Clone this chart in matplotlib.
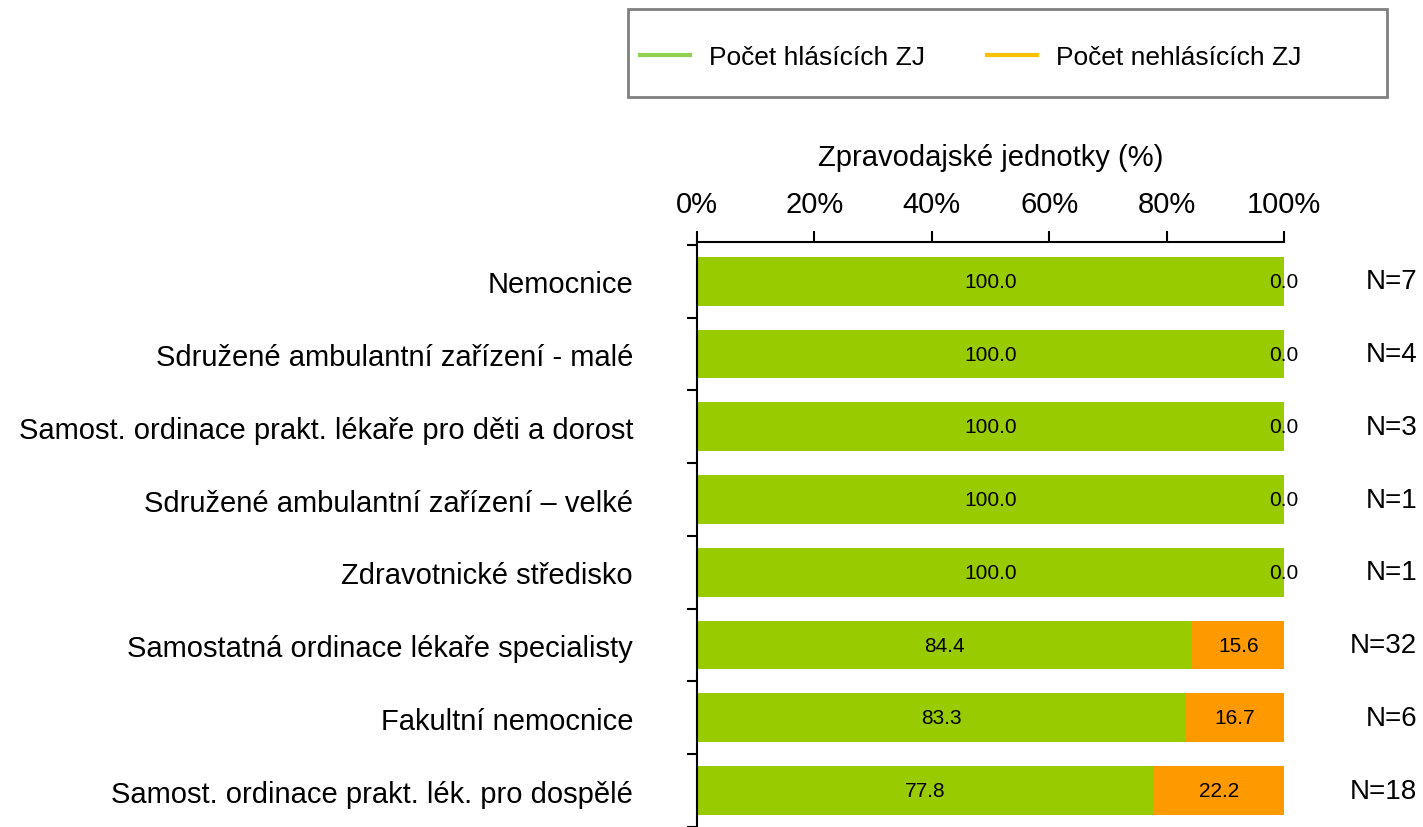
import matplotlib.pyplot as plt
from matplotlib.lines import Line2D
from matplotlib.patches import Rectangle
from matplotlib.transforms import blended_transform_factory

plt.rcParams['font.family'] = ['Liberation Sans', 'DejaVu Sans']

categories = ["Nemocnice",
              "Sdružené ambulantní zařízení - malé",
              "Samost. ordinace prakt. lékaře pro děti a dorost",
              "Sdružené ambulantní zařízení – velké",
              "Zdravotnické středisko",
              "Samostatná ordinace lékaře specialisty",
              "Fakultní nemocnice",
              "Samost. ordinace prakt. lék. pro dospělé"]
reporting = [100.0, 100.0, 100.0, 100.0, 100.0, 84.4, 83.3, 77.8]
not_reporting = [0.0, 0.0, 0.0, 0.0, 0.0, 15.6, 16.7, 22.2]
n_counts = [7, 4, 3, 1, 1, 32, 6, 18]

green = "#99CC00"
orange = "#FF9900"

fig = plt.figure(figsize=(14.23, 8.28), dpi=100)
ax = fig.add_axes([697/1423, 0, 587/1423, 1 - 243/828])

y = list(range(len(categories)))
b1 = ax.barh(y, reporting, height=0.67, color=green)
b2 = ax.barh(y, not_reporting, left=reporting, height=0.67, color=orange)
ax.bar_label(b1, labels=["%.1f" % v for v in reporting], label_type="center", fontsize=15)
ax.bar_label(b2, labels=["%.1f" % v for v in not_reporting], label_type="center", fontsize=15)

ax.set_xlim(0, 100)
ax.set_ylim(7.42, -0.54)

# x axis on top
ax.xaxis.tick_top()
ax.xaxis.set_label_position("top")
ax.set_xticks([0, 20, 40, 60, 80, 100])
ax.set_xticklabels(["0%", "20%", "40%", "60%", "80%", "100%"], fontsize=21)
ax.tick_params(axis="x", direction="out", length=8, width=1.5, pad=9)
ax.set_xlabel("Zpravodajské jednotky (%)", fontsize=21, labelpad=18)

# categories at centres, tick marks at boundaries
ax.set_yticks(y)
ax.set_yticklabels(categories, fontsize=21)
ax.tick_params(axis="y", which="major", length=0, pad=46)
ax.set_yticks([i - 0.5 for i in range(len(categories) + 1)], minor=True)
ax.tick_params(axis="y", which="minor", direction="out", length=7, width=1.5)

for s in ["right", "bottom"]:
    ax.spines[s].set_visible(False)
for s in ["top", "left"]:
    ax.spines[s].set_linewidth(1.5)

trans = blended_transform_factory(ax.transAxes, ax.transData)
for i, n in enumerate(n_counts):
    ax.text(1.2266, i, "N=%d" % n, transform=trans, ha="right", va="center", fontsize=20)

# legend box
fig.add_artist(Rectangle((628/1423, 1 - 98/828), 759/1423, 88/828, transform=fig.transFigure,
                         fill=False, edgecolor="#808080", linewidth=2))
handles = [Line2D([], [], color="#92D050", linewidth=3),
           Line2D([], [], color="#FFC000", linewidth=3)]
fig.legend(handles, ["Počet hlásících ZJ", "Počet nehlásících ZJ"], ncol=2, frameon=False,
           loc="center left", bbox_to_anchor=(640/1423, 1 - 58/828), fontsize=19,
           handlelength=1.9, handletextpad=0.72, columnspacing=2.35,
           borderpad=0, borderaxespad=0)

fig.savefig("out.png", dpi=100)
